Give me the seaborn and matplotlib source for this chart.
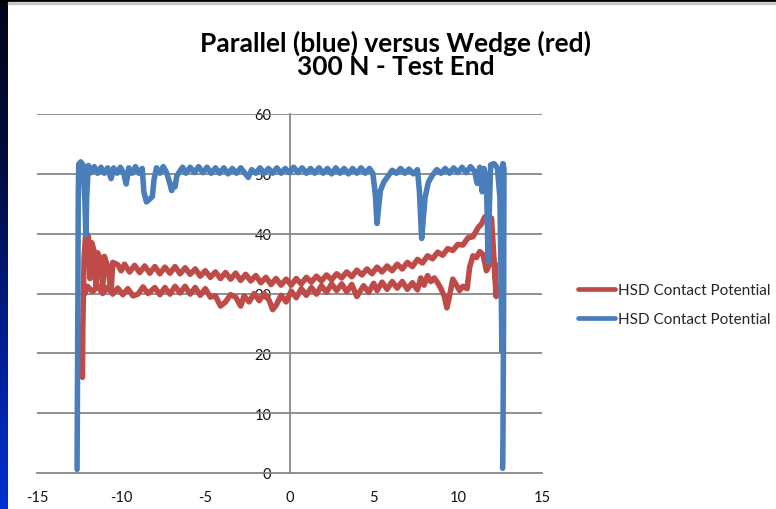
import numpy as np
import pandas as pd
import matplotlib
matplotlib.use("Agg")
import matplotlib.pyplot as plt
from matplotlib.colors import LinearSegmentedColormap
import seaborn as sns

# ---------------- data ----------------
red_x = [-12.3, -12.28, -12.25, -12.2, -12.1, -11.95, -11.85, -11.75, -11.6, -11.5,
         -11.4, -11.2, -11.1, -11.0, -10.8, -10.6, -10.5, -10.2, -10.0, -9.8,
         -9.5, -9.2, -8.9, -8.6, -8.3, -8.0, -7.7, -7.4, -7.1, -6.8,
         -6.5, -6.2, -5.9, -5.6, -5.3, -5.0, -4.7, -4.4, -4.1, -3.8,
         -3.5, -3.2, -2.9, -2.6, -2.3, -2.0, -1.7, -1.4, -1.1, -0.8,
         -0.5, -0.2, 0.1, 0.4, 0.7, 1.0, 1.3, 1.6, 1.9, 2.2,
         2.5, 2.8, 3.1, 3.4, 3.7, 4.0, 4.3, 4.6, 4.9, 5.2,
         5.5, 5.8, 6.1, 6.4, 6.7, 7.0, 7.3, 7.6, 7.9, 8.2,
         8.5, 8.8, 9.1, 9.4, 9.7, 10.0, 10.3, 10.6, 10.9, 11.2,
         11.4, 11.6, 11.8, 12.0, 12.1, 12.2, 12.28, 12.22, 12.1, 11.95,
         11.9, 11.7, 11.5, 11.3, 11.1, 10.9, 10.7, 10.55, 10.3, 10.1,
         9.9, 9.7, 9.5, 9.35, 9.2, 9.0, 8.8, 8.6, 8.4, 8.2,
         8.0, 7.8, 7.6, 7.3, 7.0, 6.7, 6.4, 6.1, 5.8, 5.5,
         5.2, 5.0, 4.7, 4.4, 4.0, 3.7, 3.4, 3.1, 2.8, 2.5,
         2.2, 1.9, 1.6, 1.3, 1.0, 0.7, 0.4, 0.1, -0.2, -0.5,
         -0.8, -1.0, -1.2, -1.5, -1.8, -2.1, -2.4, -2.7, -2.9, -3.2,
         -3.5, -3.8, -4.1, -4.4, -4.7, -5.0, -5.3, -5.6, -5.9, -6.2,
         -6.5, -6.8, -7.1, -7.4, -7.7, -8.0, -8.4, -8.7, -9.0, -9.3,
         -9.6, -9.9, -10.2, -10.5, -10.8, -11.1, -11.4, -11.7, -12.0, -12.15]
red_y = [16.0, 24.0, 29.0, 36.0, 40.3, 39.5, 32.5, 38.5, 37.0, 31.0,
         36.8, 35.5, 30.6, 36.2, 34.5, 30.3, 35.2, 34.8, 33.8, 34.9,
         33.6, 34.7, 33.5, 34.6, 33.4, 34.5, 33.3, 34.4, 33.4, 34.5,
         33.3, 34.3, 33.2, 34.1, 32.9, 33.8, 32.7, 33.6, 32.5, 33.5,
         32.4, 33.4, 32.2, 33.2, 32.1, 33.0, 31.8, 32.7, 31.5, 32.5,
         31.4, 32.4, 31.4, 32.5, 31.6, 32.7, 31.9, 32.9, 32.1, 33.1,
         32.3, 33.3, 32.6, 33.6, 32.8, 33.9, 33.1, 34.1, 33.3, 34.4,
         33.6, 34.6, 33.8, 34.9, 34.1, 35.2, 34.5, 35.7, 35.1, 36.3,
         35.8, 36.9, 36.4, 37.5, 37.2, 38.2, 38.1, 39.3, 39.5, 41.0,
         41.6, 42.8, 42.3, 42.6, 38.0, 33.0, 29.5, 35.0, 35.5, 36.5,
         35.0, 33.8, 36.5, 37.0, 36.0, 36.3, 34.4, 30.8, 31.2, 30.5,
         31.5, 32.4, 29.5, 27.6, 29.5, 30.8, 31.8, 32.6, 32.0, 33.0,
         31.4, 32.6, 30.6, 31.8, 30.7, 32.0, 30.9, 32.0, 30.7, 31.9,
         30.5, 31.7, 30.2, 31.3, 29.5, 31.5, 30.3, 31.6, 30.5, 31.6,
         30.2, 31.3, 29.9, 31.0, 29.7, 30.8, 29.3, 30.4, 28.6, 29.7,
         28.0, 27.3, 28.8, 30.0, 28.8, 30.0, 28.6, 29.6, 27.9, 29.4,
         29.8, 28.6, 27.9, 29.6, 29.4, 30.8, 29.7, 31.0, 29.9, 31.2,
         30.1, 31.2, 29.9, 31.0, 29.8, 31.0, 30.0, 31.1, 29.9, 29.6,
         30.8, 29.8, 30.9, 29.9, 31.0, 30.0, 31.2, 30.3, 31.2, 30.0]

blue_x = [-12.62, -12.6, -12.57, -12.55, -12.52, -12.4, -12.25, -12.15, -12.1, -12.05,
          -11.95, -11.8, -11.6, -11.4, -11.2, -11.0, -10.8, -10.6, -10.45, -10.25,
          -10.05, -9.85, -9.7, -9.55, -9.35, -9.15, -8.95, -8.75, -8.65, -8.5,
          -8.3, -8.15, -8.05, -7.9, -7.7, -7.5, -7.3, -7.15, -7.0, -6.9,
          -6.8, -6.7, -6.55, -6.35, -6.15, -5.9, -5.65, -5.4, -5.15, -4.9,
          -4.65, -4.4, -4.15, -3.9, -3.65, -3.4, -3.15, -2.9, -2.65, -2.45,
          -2.25, -2.0, -1.75, -1.5, -1.25, -1.0, -0.75, -0.5, -0.25, 0.0,
          0.25, 0.5, 0.75, 1.0, 1.25, 1.5, 1.75, 2.0, 2.25, 2.5,
          2.75, 3.0, 3.25, 3.5, 3.75, 4.0, 4.25, 4.5, 4.75, 4.95,
          5.1, 5.2, 5.28, 5.4, 5.6, 5.85, 6.1, 6.35, 6.6, 6.85,
          7.1, 7.35, 7.6, 7.72, 7.85, 7.95, 8.05, 8.25, 8.5, 8.75,
          9.0, 9.25, 9.5, 9.75, 10.0, 10.25, 10.5, 10.75, 11.0, 11.15,
          11.3, 11.45, 11.55, 11.7, 11.8, 11.88, 11.95, 12.15, 12.35, 12.5,
          12.58, 12.62, 12.64, 12.68, 12.74, 12.72, 12.69, 12.67, 12.66]
blue_y = [0.6, 12.0, 30.0, 46.0, 51.6, 52.0, 51.4, 45.0, 39.8, 46.0,
          51.4, 50.2, 51.2, 50.1, 51.1, 50.1, 51.0, 49.2, 51.0, 50.1,
          51.1, 50.1, 48.3, 51.0, 50.1, 51.2, 50.1, 50.9, 47.0, 45.3,
          45.8, 46.2, 49.0, 51.0, 50.1, 51.2, 50.2, 48.8, 47.2, 48.2,
          47.8, 49.6, 50.3, 51.1, 50.1, 51.1, 50.2, 51.2, 50.2, 51.1,
          50.1, 51.0, 50.1, 51.0, 50.0, 50.9, 50.1, 51.0, 50.1, 49.4,
          50.7, 50.1, 51.0, 50.1, 50.9, 50.1, 51.0, 50.1, 50.9, 50.2,
          51.1, 50.2, 51.0, 50.1, 50.9, 50.1, 51.0, 50.1, 50.9, 50.0,
          51.0, 50.1, 50.9, 50.0, 50.9, 50.1, 51.0, 50.1, 50.9, 50.1,
          46.5, 41.7, 44.0, 47.2, 48.6, 49.6, 50.6, 50.1, 50.9, 50.1,
          50.8, 50.0, 50.7, 47.0, 39.2, 42.5, 46.0, 48.6, 49.8, 50.7,
          50.1, 50.9, 50.1, 51.0, 50.2, 51.1, 50.2, 51.2, 50.4, 48.4,
          51.1, 47.0, 50.9, 49.0, 35.3, 45.0, 51.5, 51.7, 51.0, 46.0,
          30.0, 20.3, 38.0, 51.7, 50.8, 28.0, 10.0, 2.0, 0.8]

series_label = "HSD Contact Potential"
title_text = "Parallel (blue) versus Wedge (red)\n300 N - Test End"
x_ticks = [-15, -10, -5, 0, 5, 10, 15]
y_ticks = [0, 10, 20, 30, 40, 50, 60]

RED = "#BE4B48"
BLUE = "#4A7EBB"
GRID = "#878787"

# ---------------- figure ----------------
sns.set_style("white")
plt.rcParams["font.family"] = ["Lato", "DejaVu Sans"]
plt.rcParams["axes.unicode_minus"] = False

W, H = 776, 510
fig = plt.figure(figsize=(W / 100, H / 100), dpi=100, facecolor="white")

# slide background strips
bg = fig.add_axes([0, 0, 8 / W, 1], zorder=-5)
grad = np.linspace(0, 1, 256).reshape(-1, 1)
cmap = LinearSegmentedColormap.from_list("slide", ["#0030D0", "#001E90", "#000C40", "#000618"])
bg.imshow(grad, aspect="auto", cmap=cmap, origin="lower", extent=[0, 1, 0, 1])
bg.set_axis_off()
fig.patches.append(plt.Rectangle((0, 1 - 3 / H), 1, 3 / H, transform=fig.transFigure,
                                 color="black", zorder=-4))
fig.patches.append(plt.Rectangle((8 / W, 1 - 4.5 / H), 1, 1.5 / H, transform=fig.transFigure,
                                 color="#C8C8C8", zorder=-4))

ax = fig.add_axes([37 / W, 36 / H, (542 - 37) / W, (474 - 115) / H])
ax.set_facecolor("none")

LW = 4.0
df_red = pd.DataFrame({"x": red_x, "y": red_y})
df_blue = pd.DataFrame({"x": blue_x, "y": blue_y})
sns.lineplot(data=df_red, x="x", y="y", sort=False, estimator=None, color=RED,
             linewidth=LW, ax=ax, label=series_label, zorder=3,
             solid_joinstyle="round", solid_capstyle="round")
sns.lineplot(data=df_blue, x="x", y="y", sort=False, estimator=None, color=BLUE,
             linewidth=LW, ax=ax, label=series_label, zorder=4,
             solid_joinstyle="round", solid_capstyle="round")

ax.set_xlim(-15, 15)
ax.set_ylim(0, 60)
ax.set_xticks(x_ticks)
ax.set_xticklabels([str(v) for v in x_ticks])
ax.set_yticks(y_ticks)
ax.set_yticklabels([str(v) for v in y_ticks])
ax.set_xlabel("")
ax.set_ylabel("")

for v in y_ticks[1:]:
    ax.axhline(v, color=GRID, linewidth=1.3, zorder=1)

for s in ["top", "right"]:
    ax.spines[s].set_visible(False)
ax.spines["left"].set_position(("data", 0))
for s in ["left", "bottom"]:
    ax.spines[s].set_color(GRID)
    ax.spines[s].set_linewidth(1.3)
    ax.spines[s].set_zorder(1)

ax.tick_params(axis="x", direction="out", length=4, width=1.3, color=GRID,
               labelsize=10.5, labelcolor="#111111", pad=8)
ax.tick_params(axis="y", length=0, labelsize=10.5, labelcolor="#111111", pad=13)

leg = ax.legend(handles=ax.get_lines()[:2], labels=[series_label, series_label],
                loc="center left", bbox_to_anchor=(578 / W, 1 - 305.5 / H),
                bbox_transform=fig.transFigure, frameon=False, fontsize=11,
                handlelength=2.45, handletextpad=0.15, labelspacing=1.0,
                borderpad=0, borderaxespad=0)
for line in leg.get_lines():
    line.set_linewidth(3.4)

fig.text(396 / W, 1 - 75 / H, title_text, ha="center", va="baseline",
         multialignment="center", linespacing=0.95,
         fontsize=19, fontweight="bold", color="black")

fig.savefig("out.png", dpi=100, facecolor="white")
